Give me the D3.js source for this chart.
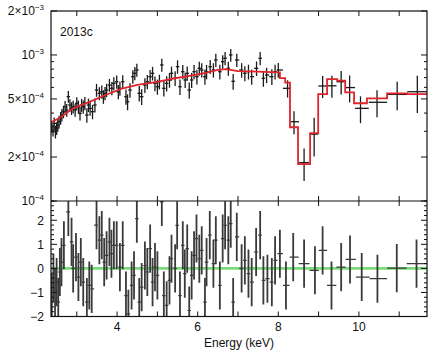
<!DOCTYPE html>
<html><head><meta charset="utf-8">
<script src="https://cdn.jsdelivr.net/npm/d3@7"></script>
<style>body{margin:0;background:#fff} text{font-family:"Liberation Sans",Arial,Helvetica,sans-serif;fill:#111}</style>
</head><body><svg id="c" width="436" height="354"></svg>
<script>
// ---- data (flux in units of 1e-4) ----
const unit = 1e-4;
const energy = [2.38,2.41,2.44,2.47,2.50,2.53,2.56,2.60,2.63,2.67,2.71,2.75,2.79,2.83,2.87,2.91,2.96,3.00,3.04,3.08,3.12,3.16,3.20,3.25,3.29,3.33,3.39,3.45,3.49,3.56,3.62,3.66,3.70,3.74,3.81,3.87,3.92,3.99,4.03,4.07,4.14,4.22,4.26,4.32,4.39,4.44,4.49,4.55,4.61,4.69,4.75,4.82,4.88,4.94,5.00,5.05,5.11,5.16,5.23,5.30,5.35,5.44,5.50,5.56,5.63,5.69,5.74,5.79,5.85,5.91,5.98,6.04,6.10,6.18,6.22,6.31,6.39,6.45,6.55,6.62,6.68,6.76,6.82,6.88,6.97,7.09,7.17,7.26,7.34,7.46,7.55,7.63,7.71,7.84,7.92,8.00,8.23,8.39,8.64,8.89,9.10,9.33,9.56,9.77,10.04,10.45,10.95,11.45];
const flux = [3.23,3.06,3.40,2.98,3.15,3.31,3.49,3.70,3.88,4.09,4.42,4.20,5.18,4.54,4.31,4.42,4.20,4.67,4.42,3.98,4.54,4.42,4.67,3.88,4.54,4.31,4.09,4.54,5.75,5.46,5.60,5.18,5.46,5.75,6.22,5.91,6.39,6.56,5.60,5.91,6.56,5.18,4.78,5.75,7.10,7.49,7.89,5.46,5.18,6.22,6.56,7.10,7.49,6.39,6.06,6.56,8.54,5.91,6.39,6.74,7.49,6.92,8.31,6.06,7.68,6.74,7.49,5.75,6.74,7.68,7.10,8.10,7.89,7.10,7.68,8.31,7.89,9.24,7.68,8.99,9.49,8.10,10.0,6.60,9.24,7.89,7.49,7.68,7.10,8.10,9.49,6.92,7.29,7.10,7.68,7.89,5.91,3.49,1.83,2.87,6.13,6.15,6.56,5.98,4.31,4.74,5.37,5.60];
const fluxErr = [0.32,0.30,0.33,0.30,0.32,0.33,0.35,0.37,0.38,0.40,0.42,0.42,0.48,0.44,0.43,0.44,0.43,0.46,0.45,0.42,0.46,0.46,0.48,0.44,0.48,0.47,0.46,0.50,0.58,0.56,0.58,0.55,0.57,0.60,0.63,0.62,0.66,0.68,0.62,0.65,0.70,0.62,0.60,0.66,0.75,0.78,0.80,0.66,0.64,0.72,0.74,0.78,0.80,0.74,0.72,0.76,0.88,0.72,0.76,0.78,0.83,0.80,0.88,0.74,0.85,0.80,0.84,0.74,0.80,0.86,0.83,0.89,0.88,0.84,0.87,0.91,0.89,0.96,0.88,0.95,0.98,0.90,1.00,0.82,0.96,0.90,0.88,0.89,0.86,0.92,1.00,0.86,0.88,0.87,0.90,0.92,0.80,0.62,0.46,0.85,1.06,1.05,1.20,1.25,0.90,1.00,1.18,1.60];

// model: smooth continuum, then binned steps
const modelContE = [2.36,2.6,2.9,3.3,3.7,4.1,4.5,5.0,5.4,5.8,6.2,6.5,6.7,7.0,7.5,7.95];
const modelContV = [3.45,3.75,4.3,4.75,5.3,5.85,6.25,6.55,6.9,7.2,7.55,7.9,8.0,7.75,7.7,7.6];
const modelStepE = [7.95,8.04,8.17,8.29,8.49,8.79,8.99,9.21,9.46,9.66,9.88,10.2,10.7,11.2,11.69];
const modelStepV = [7.6,6.95,6.46,3.2,1.79,2.92,5.4,6.84,6.67,5.55,4.67,5.04,5.46,5.4,5.4];

// residuals (sigma)
const resE = [2.38,2.42,2.46,2.50,2.54,2.58,2.62,2.68,2.79,2.87,2.91,2.98,3.04,3.10,3.16,3.25,3.31,3.37,3.49,3.56,3.62,3.68,3.74,3.81,3.86,3.92,3.99,4.07,4.14,4.22,4.28,4.36,4.42,4.49,4.55,4.61,4.69,4.75,4.82,4.88,4.94,5.00,5.11,5.16,5.23,5.30,5.35,5.44,5.49,5.56,5.63,5.68,5.74,5.79,5.85,5.91,5.97,6.04,6.10,6.18,6.22,6.30,6.39,6.45,6.55,6.62,6.68,6.76,6.82,6.88,6.97,7.09,7.17,7.26,7.34,7.45,7.55,7.63,7.73,7.84,7.92,8.04,8.19,8.37,8.64,8.91,9.10,9.32,9.56,9.78,10.07,10.46,10.94,11.43];
const resid = [-1.2,-0.4,-0.99,-0.57,-1.4,-0.15,0.26,0.96,2.35,1.1,0,0.47,-0.36,0.26,-0.57,-1.4,-0.71,-0.85,1.8,1.17,1.38,0.26,0.54,1.1,0.61,0.96,0.96,0.05,0.96,-1.13,-1.89,-0.71,-0.29,2.07,-1.4,-0.78,0.12,-0.15,0.82,-0.57,0.05,-0.29,2.76,-1.13,-1.54,-0.5,0.4,0,1.79,-1.13,0.96,-0.22,0.82,-1.75,-0.29,0.54,1.24,0.4,0.75,-1.4,0.26,1.38,0.2,1.17,-0.71,1.24,1.79,1.17,1.86,-1.4,1.31,0,0.33,-0.22,-0.57,0.68,1.38,-0.5,-0.43,-0.57,0.33,0.61,-0.71,0.47,0.2,-0.08,0.75,-0.71,0.05,0.37,-0.36,-0.43,0.01,0.2];

const xTicks = [3,4,5,6,7,8,9,10,11];
const xTickLabels = [4,6,8,10];
const yMajor = [1e-4,2e-4,5e-4,1e-3,2e-3];
const yLabels = [["10","−4"],["2×10","−4"],["5×10","−4"],["10","−3"],["2×10","−3"]];
const yMinor = [3e-4,4e-4,6e-4,7e-4,8e-4,9e-4];
const resMajor = [-2,-1,0,1,2];
const resLabels = ["−2","−1","0","1","2"];

// ---- layout ----
const L=51, R=427, T=11, M=201, B=316.5;
const svg = d3.select("#c");
const x = d3.scaleLinear().domain([2.36,11.69]).range([L,R]);
const y = d3.scaleLog().domain([1e-4,2e-3]).range([M,T]);
const yr = d3.scaleLinear().domain([-2,2.8]).range([B,M]);

const defs = svg.append("defs");
defs.append("clipPath").attr("id","cTop").append("rect").attr("x",L).attr("y",T).attr("width",R-L).attr("height",M-T);
defs.append("clipPath").attr("id","cBot").append("rect").attr("x",L).attr("y",M).attr("width",R-L).attr("height",B-M);

function edges(arr){
  return arr.map((e,i)=>{
    const lo = i>0 ? (arr[i-1]+e)/2 : e-(arr[1]-e)/2;
    const hi = i<arr.length-1 ? (arr[i+1]+e)/2 : e+(e-arr[i-1])/2;
    return [lo,hi];
  });
}

// ---- top panel ----
const gt = svg.append("g").attr("clip-path","url(#cTop)");
const ed = edges(energy);
const pts = gt.append("g").attr("stroke","#1a1a1a").attr("stroke-width",1.3);
energy.forEach((e,i)=>{
  const cx = x(e), cy = y(flux[i]*unit);
  let x0 = x(ed[i][0]), x1 = x(ed[i][1]);
  if (x1-x0 < 3.5){ x0 = cx-1.75; x1 = cx+1.75; }
  pts.append("line").attr("x1",cx).attr("x2",cx)
    .attr("y1",y((flux[i]+fluxErr[i])*unit)).attr("y2",y((flux[i]-fluxErr[i])*unit));
  pts.append("line").attr("x1",x0).attr("x2",x1).attr("y1",cy).attr("y2",cy);
});
const redC = "#e0242c";
gt.append("path").datum(modelContE.map((e,i)=>[e,modelContV[i]]))
  .attr("fill","none").attr("stroke",redC).attr("stroke-width",1.8)
  .attr("d", d3.line().x(d=>x(d[0])).y(d=>y(d[1]*unit)).curve(d3.curveLinear));
gt.append("path").datum(modelStepE.map((e,i)=>[e,modelStepV[i]]))
  .attr("fill","none").attr("stroke",redC).attr("stroke-width",1.8)
  .attr("d", d3.line().x(d=>x(d[0])).y(d=>y(d[1]*unit)).curve(d3.curveStepAfter));

// ---- bottom panel ----
const gb = svg.append("g").attr("clip-path","url(#cBot)");
gb.append("line").attr("x1",L).attr("x2",R).attr("y1",yr(0)).attr("y2",yr(0))
  .attr("stroke","#78dc78").attr("stroke-width",2.8);
const er = edges(resE);
const rp = gb.append("g").attr("stroke","#3a3a3a").attr("stroke-width",1.8);
resE.forEach((e,i)=>{
  const cx = x(e), cy = yr(resid[i]);
  let x0 = x(er[i][0]), x1 = x(er[i][1]);
  if (x1-x0 < 3.5){ x0 = cx-1.75; x1 = cx+1.75; }
  rp.append("line").attr("x1",cx).attr("x2",cx).attr("y1",yr(resid[i]+1)).attr("y2",yr(resid[i]-1));
  rp.append("line").attr("x1",x0).attr("x2",x1).attr("y1",cy).attr("y2",cy).attr("stroke-width",1.2);
});

// ---- frames & ticks ----
const ax = svg.append("g").attr("stroke","#111").attr("fill","none");
ax.append("rect").attr("x",L).attr("y",T).attr("width",R-L).attr("height",B-T).attr("stroke-width",1.2);
ax.append("line").attr("x1",L).attr("x2",R).attr("y1",M).attr("y2",M).attr("stroke-width",1.2);
const tk = svg.append("g").attr("stroke","#111").attr("stroke-width",1);
xTicks.forEach(v=>{
  const px = x(v);
  [[T,5],[M,-5],[M,5],[B,-5]].forEach(([yy,d])=>{
    tk.append("line").attr("x1",px).attr("x2",px).attr("y1",yy).attr("y2",yy+d);
  });
});
yMajor.forEach(v=>{
  const py = y(v);
  tk.append("line").attr("x1",L).attr("x2",L+6).attr("y1",py).attr("y2",py);
  tk.append("line").attr("x1",R).attr("x2",R-6).attr("y1",py).attr("y2",py);
});
yMinor.forEach(v=>{
  const py = y(v);
  tk.append("line").attr("x1",L).attr("x2",L+3).attr("y1",py).attr("y2",py);
  tk.append("line").attr("x1",R).attr("x2",R-3).attr("y1",py).attr("y2",py);
});
d3.range(-20,29,2).map(v=>v/10).forEach(v=>{
  const py = yr(v);
  const major = Math.abs(v-Math.round(v))<1e-9;
  const len = major?6:3;
  tk.append("line").attr("x1",L).attr("x2",L+len).attr("y1",py).attr("y2",py);
  tk.append("line").attr("x1",R).attr("x2",R-len).attr("y1",py).attr("y2",py);
});

// ---- labels ----
const lab = svg.append("g").attr("font-size",12);
yMajor.forEach((v,i)=>{
  const t = lab.append("text").attr("x",44).attr("y",y(v)+4).attr("text-anchor","end");
  t.append("tspan").text(yLabels[i][0]);
  t.append("tspan").attr("font-size",8).attr("dy",-5).text(yLabels[i][1]);
});
resMajor.forEach((v,i)=>{
  lab.append("text").attr("x",44).attr("y",yr(v)+4.5).attr("text-anchor","end").text(resLabels[i]);
});
xTickLabels.forEach(v=>{
  lab.append("text").attr("x",x(v)).attr("y",331).attr("text-anchor","middle").text(v);
});
lab.append("text").attr("x",(L+R)/2).attr("y",347).attr("text-anchor","middle").text("Energy (keV)");
lab.append("text").attr("x",60).attr("y",36).text("2013c");
</script>
</body></html>
